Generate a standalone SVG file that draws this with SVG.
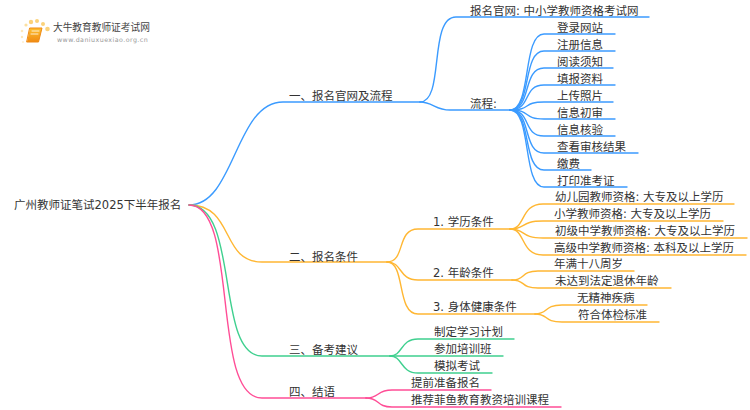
<svg xmlns="http://www.w3.org/2000/svg" width="750" height="410" viewBox="0 0 750 410">
<style>
text{font-family:"DejaVu Sans","Noto Sans CJK SC",sans-serif;font-size:11.5px;fill:#333}
path{fill:none;stroke-width:1.4;stroke-linecap:round}
.b path{stroke:#3b9bff}.o path{stroke:#ffb733}.g path{stroke:#3fd08f}.p path{stroke:#ff4d96}
</style>
<defs><linearGradient id="bk" x1="0" y1="0" x2="0" y2="1"><stop offset="0" stop-color="#fdc02f"/><stop offset="1" stop-color="#f08a12"/></linearGradient></defs>
<rect width="750" height="410" fill="#fff"/>
<g id="logo">
<circle cx="31" cy="22" r="2.2" fill="#fbd27a"/><circle cx="37" cy="21" r="2" fill="#fbd27a"/><circle cx="26" cy="25" r="1.6" fill="#fce0a0"/><circle cx="43" cy="24" r="2" fill="#fbd27a"/><circle cx="47.500" cy="29" r="2.300" fill="#fbd27a"/><circle cx="22" cy="31" r="1.300" fill="#fde8bb"/><circle cx="22" cy="37" r="1.200" fill="#fde8bb"/><circle cx="23" cy="42" r="1" fill="#fdeed0"/>
<path d="M30 28H42L38.500 42H27Z" style="fill:url(#bk);stroke:#ef8a14;stroke-width:1"/>
<path d="M32 31H39M31 34H38" style="stroke:#fff;stroke-width:.8"/>
<text x="53" y="31" style="font-size:9.700px;fill:#444">大牛教育教师证考试网</text>
<text x="57" y="41.500" style="font-size:6.300px;fill:#999;letter-spacing:.45px">www.daniuxuexiao.org.cn</text>
</g>
<g id="connectors">
<g class="b">
<path d="M189 205C235 205 235 102 283 102H420"/>
<path d="M420 102C445 102 428 17 456 17H649"/>
<path d="M420 102C433 102 435 110 450 110H510"/>
<path d="M510 110C532 110 522 34 544 34H615"/>
<path d="M510 110C532 110 522 51 544 51H615"/>
<path d="M510 110C532 110 522 68 544 68H613"/>
<path d="M510 110C532 110 522 85 544 85H615"/>
<path d="M510 110C532 110 522 102 544 102H613"/>
<path d="M510 110C532 110 522 119 544 119H615"/>
<path d="M510 110C532 110 522 136 544 136H615"/>
<path d="M510 110C532 110 522 153 544 153H638"/>
<path d="M510 110C532 110 522 170 544 170H591"/>
<path d="M510 110C532 110 522 187 544 187H627"/>
</g>
<g class="o">
<path d="M189 205C235 205 220 262 262 262H387"/>
<path d="M387 262C406 262 396 229 418 229H510"/>
<path d="M387 262C403 262 398 280 418 280H512"/>
<path d="M387 262C406 262 396 314 418 314H535"/>
<path d="M510 229C526 229 520 204 543 204H734"/>
<path d="M510 229C526 229 520 221 543 221H723"/>
<path d="M510 229C526 229 520 238 543 238H747"/>
<path d="M510 229C526 229 520 255 543 255H746"/>
<path d="M512 280C526 280 520 271 538 271H634"/>
<path d="M512 280C526 280 520 288 538 288H671"/>
<path d="M535 314C549 314 543 305 562 305H647"/>
<path d="M535 314C549 314 543 322 562 322H659"/>
</g>
<g class="g">
<path d="M189 205C240 205 215 356 262 356H390"/>
<path d="M390 356C403 356 400 339 418 339H514"/>
<path d="M390 356H503"/>
<path d="M390 356C403 356 400 373 418 373H492"/>
</g>
<g class="p">
<path d="M189 205C240 205 210 398 262 398H366"/>
<path d="M366 398C380 398 376 390 392 390H491"/>
<path d="M366 398C380 398 376 407 392 407H561"/>
</g>
</g>
<g id="root"><text x="14" y="209">广州教师证笔试2025下半年报名</text></g>
<g id="n1"><text x="289" y="100">一、报名官网及流程</text></g>
<g id="n1a"><text x="470" y="15">报名官网: 中小学教师资格考试网</text></g>
<g id="n1b"><text x="470" y="108">流程:</text></g>
<g id="n1b1"><text x="557" y="32">登录网站</text></g>
<g id="n1b2"><text x="557" y="49">注册信息</text></g>
<g id="n1b3"><text x="557" y="66">阅读须知</text></g>
<g id="n1b4"><text x="557" y="83">填报资料</text></g>
<g id="n1b5"><text x="557" y="100">上传照片</text></g>
<g id="n1b6"><text x="557" y="117">信息初审</text></g>
<g id="n1b7"><text x="557" y="134">信息核验</text></g>
<g id="n1b8"><text x="557" y="151">查看审核结果</text></g>
<g id="n1b9"><text x="557" y="168">缴费</text></g>
<g id="n1b10"><text x="557" y="185">打印准考证</text></g>
<g id="n2"><text x="289" y="261">二、报名条件</text></g>
<g id="n2a"><text x="433" y="226">1. 学历条件</text></g>
<g id="n2a1"><text x="555" y="201">幼儿园教师资格: 大专及以上学历</text></g>
<g id="n2a2"><text x="554" y="218">小学教师资格: 大专及以上学历</text></g>
<g id="n2a3"><text x="555" y="235">初级中学教师资格: 大专及以上学历</text></g>
<g id="n2a4"><text x="554" y="252">高级中学教师资格: 本科及以上学历</text></g>
<g id="n2b"><text x="433" y="277">2. 年龄条件</text></g>
<g id="n2b1"><text x="554" y="268">年满十八周岁</text></g>
<g id="n2b2"><text x="555" y="285">未达到法定退休年龄</text></g>
<g id="n2c"><text x="433" y="311">3. 身体健康条件</text></g>
<g id="n2c1"><text x="577" y="302">无精神疾病</text></g>
<g id="n2c2"><text x="578" y="319">符合体检标准</text></g>
<g id="n3"><text x="289" y="354">三、备考建议</text></g>
<g id="n3a"><text x="434" y="336">制定学习计划</text></g>
<g id="n3b"><text x="434" y="353">参加培训班</text></g>
<g id="n3c"><text x="434" y="370">模拟考试</text></g>
<g id="n4"><text x="289" y="396">四、结语</text></g>
<g id="n4a"><text x="411" y="387">提前准备报名</text></g>
<g id="n4b"><text x="411" y="404">推荐菲鱼教育教资培训课程</text></g>
</svg>
